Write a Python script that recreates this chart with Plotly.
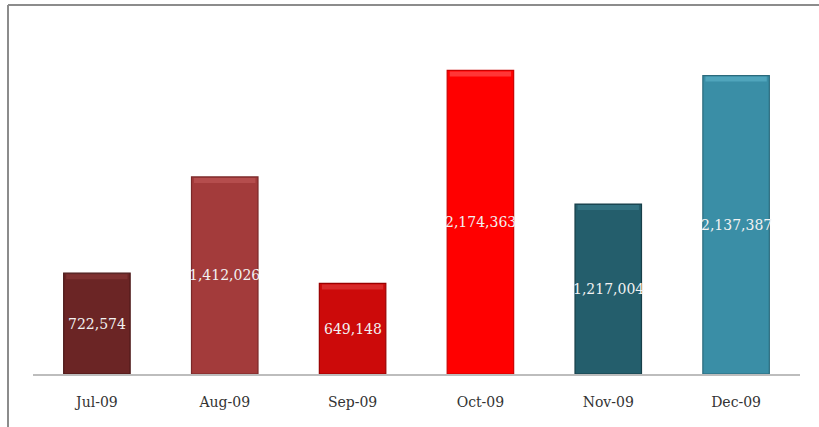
import plotly.graph_objects as go

months = ["Jul-09", "Aug-09", "Sep-09", "Oct-09", "Nov-09", "Dec-09"]
values = [722574, 1412026, 649148, 2174363, 1217004, 2137387]
bar_colors = ["#6B2525", "#A33B3B", "#CC0A0A", "#FF0000", "#245E6C", "#3A8EA6"]
edge_colors = ["#4A1717", "#7A2929", "#990000", "#CC0000", "#173F49", "#2A6A7C"]
top_colors = ["#8A3A3A", "#C25A5A", "#E04040", "#FF5A5A", "#3E8090", "#5FB4CC"]

W, H = 819, 427
ML, MR, MT, MB = 33, 19, 25, 53
YMAX = 2500000

pw = W - ML - MR
ph = H - MT - MB
unit_per_px = YMAX / ph

fig = go.Figure()
fig.add_trace(go.Bar(
    x=months, y=values,
    marker=dict(color=bar_colors, line=dict(color=edge_colors, width=1.2)),
    width=0.52,
    textposition="none",
    hoverinfo="x+y",
))
# bevel highlight strip on top of each bar
fig.add_trace(go.Bar(
    x=months, y=[5 * unit_per_px] * len(values), base=[v - 6 * unit_per_px for v in values],
    marker=dict(color=top_colors, line=dict(width=0), opacity=0.6),
    width=0.48,
    hoverinfo="skip",
))

for m, v in zip(months, values):
    fig.add_annotation(x=m, y=v / 2, text=f"{v:,}", showarrow=False,
                       font=dict(family="DejaVu Serif", size=14, color="#F2F2F2"))

fx = lambda px: (px - ML) / pw
fy = lambda py: 1 - (py - MT) / ph
frame = dict(color="#8C8C8C", width=2)
fig.add_shape(type="line", xref="paper", yref="paper", x0=fx(8), x1=fx(W + 5),
              y0=fy(5), y1=fy(5), line=frame)
fig.add_shape(type="line", xref="paper", yref="paper", x0=fx(8), x1=fx(8),
              y0=fy(5), y1=fy(H + 5), line=frame)

fig.update_layout(
    width=W, height=H,
    margin=dict(l=ML, r=MR, t=MT, b=MB),
    paper_bgcolor="white", plot_bgcolor="white",
    showlegend=False, barmode="overlay",
    xaxis=dict(showline=True, linecolor="#BDBDBD", linewidth=1.5, ticks="",
               showgrid=False, tickfont=dict(family="DejaVu Serif", size=14, color="#333333"),
               ticklabelstandoff=14),
    yaxis=dict(range=[0, YMAX], visible=False, showgrid=False),
)

fig.write_html("out.html", config={"displayModeBar": False},
               post_script="document.body.style.margin='0';document.body.style.padding='0';")
